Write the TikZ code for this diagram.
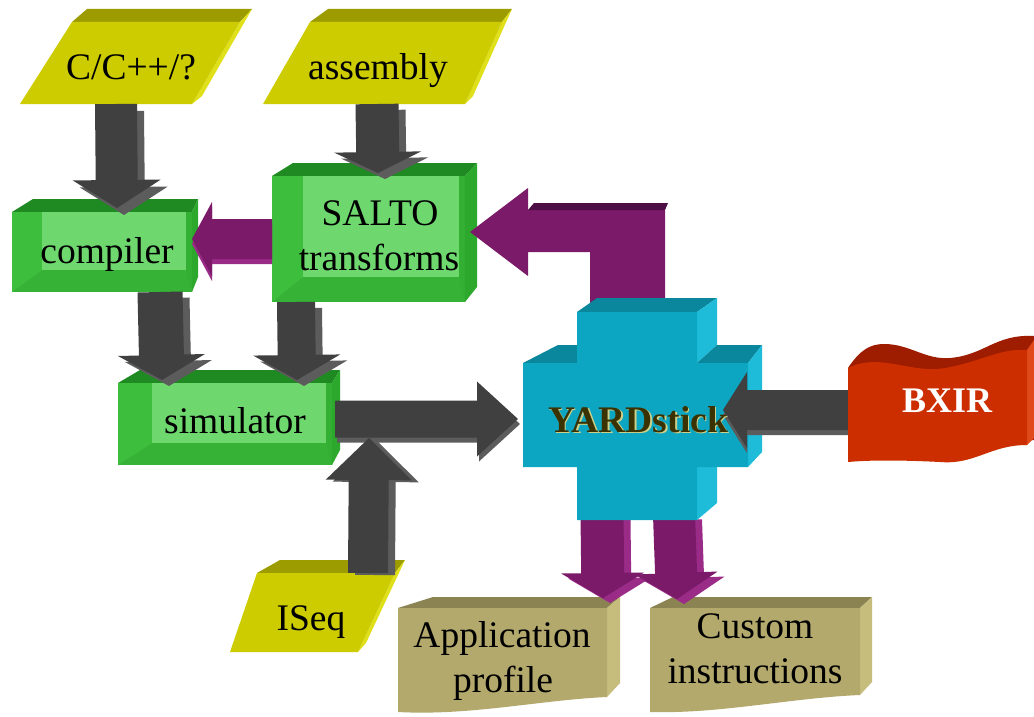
\documentclass[tikz,border=0pt]{standalone}
\usepackage{fontspec}
\setmainfont{Liberation Serif}
\usetikzlibrary{calc}
\definecolor{yfront}{HTML}{CCCC00}
\definecolor{ytop}{HTML}{9C9C00}
\definecolor{yside}{HTML}{E0E01A}
\definecolor{gtop}{HTML}{1F8A22}
\definecolor{gside}{HTML}{2CA82C}
\definecolor{gbot}{HTML}{36B236}
\definecolor{gleft}{HTML}{3DBE3D}
\definecolor{gright}{HTML}{33B033}
\definecolor{ginner}{HTML}{6ED86E}
\definecolor{arrgrey}{HTML}{404040}
\definecolor{arrgreyside}{HTML}{5C5C5C}
\definecolor{purp}{HTML}{7A1A68}
\definecolor{purpside}{HTML}{9A2C88}
\definecolor{purpdark}{HTML}{4C0E44}
\definecolor{cfront}{HTML}{0CA6C2}
\definecolor{ctop}{HTML}{0A879C}
\definecolor{cside}{HTML}{1EBCD8}
\definecolor{rfront}{HTML}{CC2E00}
\definecolor{rtop}{HTML}{9E1C00}
\definecolor{rside}{HTML}{E04A1A}
\definecolor{kfront}{HTML}{B3A96C}
\definecolor{ktop}{HTML}{8B8352}
\definecolor{kside}{HTML}{C6BC7C}
\definecolor{yardtext}{HTML}{3A3200}
\definecolor{yardshadow}{HTML}{CDD08A}
\tikzset{
  lbl/.style={font=\fontsize{37.5}{40}\selectfont, inner sep=0pt, anchor=base, text=black},
  lblb/.style={lbl, font=\fontsize{37.5}{40}\selectfont\bfseries},
}
\newcommand\fatfill[6]{%
  \coordinate (fac) at ($(#2)!#5!(#1)$);
  \fill[#6] ($(#1)!#3!90:(#2)$) -- ($(fac)!#3!90:(#2)$) -- ($(fac)!#4!90:(#2)$) -- (#2)
    -- ($(fac)!#4!-90:(#2)$) -- ($(fac)!#3!-90:(#2)$) -- ($(#1)!#3!-90:(#2)$) -- cycle;}
\newcommand\fatarrow[8]{%
  \begin{scope}[transform canvas={shift={#8}}]\fatfill{#1}{#2}{#3}{#4}{#5}{#7}\end{scope}
  \fatfill{#1}{#2}{#3}{#4}{#5}{#6}}
\newcommand\bevelbox[9]{%
  \fill[gtop] (#1,#2) -- (#5,#7) -- (#6,#7) -- (#3,#2) -- cycle;
  \fill[gside] (#3,#2) -- (#6,#7) -- (#6,{#4-15}) -- (#3,#4) -- cycle;
  \fill[gbot] (#1,#2) rectangle (#3,#4);
  \fill[gleft] (#1,#2) -- (#8,#2) -- (#8,#9) -- (#1,#4) -- cycle;
  \fill[gright] (#3,#2) -- ({#3-6},#2) -- ({#3-6},#9) -- (#3,#4) -- cycle;
  \fill[ginner] (#8,#2) rectangle ({#3-6},#9);}
\begin{document}
\begin{tikzpicture}[x=1pt,y=-1pt]
\useasboundingbox[fill=white] (0,0) rectangle (1034,717);
% ---------- input parallelograms
\fill[ytop] (72,22) -- (87,9) -- (252,9) -- (240,22) -- cycle;
\fill[yside] (240,22) -- (252,9) -- (202,96) -- (192,104) -- cycle;
\fill[yfront] (20,104) -- (192,104) -- (240,22) -- (72,22) -- cycle;
\fill[ytop] (310,22) -- (328,9) -- (512,9) -- (502,22) -- cycle;
\fill[yside] (502,22) -- (512,9) -- (473,96) -- (465,104) -- cycle;
\fill[yfront] (263,104) -- (465,104) -- (502,22) -- (310,22) -- cycle;
% ---------- output documents
\fill[ktop] (398,608) -- (433,597) -- (620,597) -- (607,608) -- cycle;
\fill[kside] (607,608) -- (620,597) -- (620,683) -- (607,697) -- cycle;
\fill[kfront] (398,608) -- (607,608) -- (607,697) .. controls (540,700) and (470,716) .. (398,712) -- cycle;
\fill[ktop] (650,608) -- (673,597) -- (872,597) -- (860,608) -- cycle;
\fill[kside] (860,608) -- (872,597) -- (872,682) -- (860,695) -- cycle;
\fill[kfront] (650,608) -- (860,608) -- (860,695) .. controls (790,698) and (720,714) .. (650,712) -- cycle;
% ---------- green boxes
\bevelbox{12}{212}{192}{292}{33}{198}{199}{42}{270}
\bevelbox{272}{176}{465}{302}{293}{477}{163}{303}{277}
\bevelbox{118}{383}{332}{465}{140}{340}{370}{152}{443}
% ---------- connector end points
\coordinate (a1s) at (116,104); \coordinate (a1e) at (117,208);
\coordinate (a2s) at (377,104); \coordinate (a2e) at (378,173);
\coordinate (a3s) at (160,292); \coordinate (a3e) at (162,380);
\coordinate (a4s) at (296,302); \coordinate (a4e) at (297,380);
\coordinate (a5s) at (335,419); \coordinate (a5e) at (518,419);
\coordinate (a6s) at (368,573); \coordinate (a6e) at (369,438);
\coordinate (a7s) at (870,410); \coordinate (a7e) at (723,410);
\coordinate (p1s) at (272,239); \coordinate (p1e) at (192,239);
\coordinate (p2s) at (602,515); \coordinate (p2e) at (603,598);
\coordinate (p3s) at (674,515); \coordinate (p3e) at (677,599);
\coordinate (ytop) at (627,312); \coordinate (stip) at (470,232);
% ---------- grey arrows into compiler / SALTO / simulator
\fatarrow{a1s}{a1e}{21pt}{44pt}{28pt}{arrgrey}{arrgreyside}{(7pt,-7pt)}
\fatarrow{a2s}{a2e}{21.5pt}{43.5pt}{21pt}{arrgrey}{arrgreyside}{(7pt,-6pt)}
\fatarrow{p1s}{p1e}{20pt}{37pt}{20pt}{purp}{purpside}{(0pt,-5pt)}
\fatarrow{a3s}{a3e}{22.5pt}{43.5pt}{25pt}{arrgrey}{arrgreyside}{(7pt,-6pt)}
\fatarrow{a4s}{a4e}{19pt}{43.5pt}{25pt}{arrgrey}{arrgreyside}{(7pt,-6pt)}
% ---------- purple elbow YARDstick -> SALTO
\fill[purp] (stip) -- (528,188) -- (528,210) -- (665,210) -- ($(ytop)+(38,0)$) -- ($(ytop)+(-37,0)$) -- (590,252) -- (528,252) -- (528,276) -- cycle;
\fill[purpdark] (528,210) -- (534,203) -- (668,203) -- (665,210) -- cycle;
% ---------- purple arrows to outputs
\fatarrow{p2s}{p2e}{21.5pt}{41.5pt}{25pt}{purp}{purpside}{(7pt,-5pt)}
\fatarrow{p3s}{p3e}{21pt}{41.5pt}{26pt}{purp}{purpside}{(7pt,-5pt)}
% ---------- YARDstick cross
\fill[ctop] (577,312) -- (597,298) -- (717,298) -- (697,312) -- cycle;
\fill[cside] (697,312) -- (717,298) -- (717,345) -- (697,363) -- cycle;
\fill[ctop] (523,363) -- (558,345) -- (577,345) -- (577,363) -- cycle;
\fill[ctop] (697,363) -- (717,345) -- (762,345) -- (748,363) -- cycle;
\fill[cside] (748,363) -- (762,345) -- (762,452) -- (748,467) -- cycle;
\fill[cside] (697,467) -- (717,453) -- (717,503) -- (697,520) -- cycle;
\fill[cfront] (577,312) -- (697,312) -- (697,363) -- (748,363) -- (748,467) -- (697,467) -- (697,520) -- (577,520) -- (577,467) -- (523,467) -- (523,363) -- (577,363) -- cycle;
% ---------- arrows into YARDstick
\fatarrow{a5s}{a5e}{18.5pt}{37.5pt}{41pt}{arrgrey}{arrgreyside}{(2pt,-5pt)}
\fatarrow{a7s}{a7e}{20pt}{38pt}{24pt}{arrgrey}{arrgreyside}{(0pt,-5pt)}
% ---------- BXIR wave
\fill[rtop] (848,368) .. controls (860,350) and (870,344) .. (884,344) .. controls (910,344) and (925,360) .. (950,358) .. controls (985,355) and (995,334) .. (1034,336) -- (1034,440) -- (848,440) -- cycle;
\fill[rside] (1027,350) -- (1034,340) -- (1034,438) -- (1027,445) -- cycle;
\fill[rfront] (848,368) .. controls (880,352) and (910,374) .. (945,368) .. controls (980,362) and (1000,348) .. (1027,350) -- (1027,445) .. controls (990,445) and (975,465) .. (940,462) .. controls (900,460) and (870,460) .. (848,462) -- cycle;
% ---------- ISeq
\fill[ytop] (257,573) -- (280,560) -- (405,560) -- (395,573) -- cycle;
\fill[yside] (395,573) -- (405,560) -- (366,643) -- (358,652) -- cycle;
\fill[yfront] (230,652) -- (358,652) -- (395,573) -- (257,573) -- cycle;
\fatarrow{a6s}{a6e}{20pt}{43pt}{42pt}{arrgrey}{arrgreyside}{(7pt,-2pt)}
% ---------- labels
\node[lbl] (csrc) at (131,80) {C/C++/?};
\node[lbl] (asm) at (378,80) {assembly};
\node[lbl] (comp) at (107,263) {compiler};
\node[lbl] (salto) at (380,225) {SALTO};
\node[lbl] (salto2) at (379,270) {transforms};
\node[lbl] (sim) at (235,433) {simulator};
\node[lblb, text=yardshadow] (yardsh) at (639.5,433.5) {YARDstick};
\node[lblb, text=yardtext] (yard) at (638,432) {YARDstick};
\node[lblb, text=white, font=\fontsize{36}{40}\selectfont\bfseries] (bxir) at (947,412) {BXIR};
\node[lbl] (iseq) at (311,630) {ISeq};
\node[lbl] (app) at (502,647) {Application};
\node[lbl] (app2) at (503,692) {profile};
\node[lbl] (cust) at (755,638) {Custom};
\node[lbl] (cust2) at (755,683) {instructions};
\end{tikzpicture}
\end{document}
